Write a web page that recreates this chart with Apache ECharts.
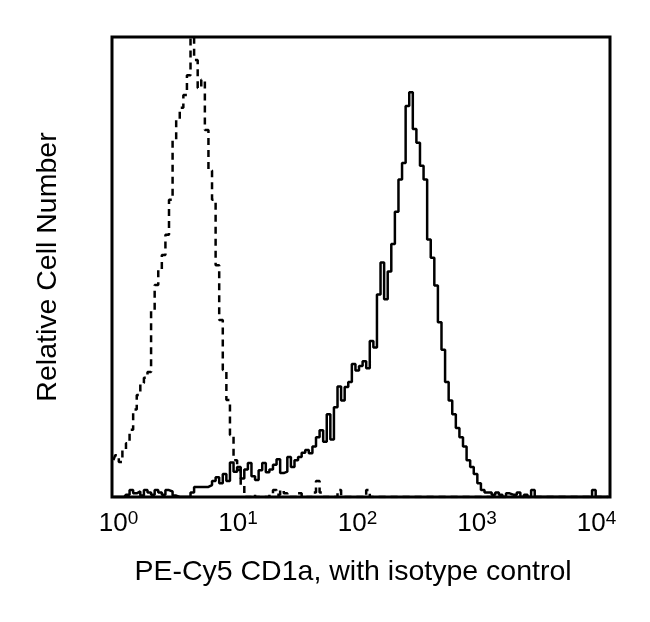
<!DOCTYPE html>
<html>
<head>
<meta charset="utf-8">
<script src="https://cdn.jsdelivr.net/npm/echarts@6/dist/echarts.min.js"></script>
<style>
html,body{margin:0;padding:0;background:#fff;}
#chart{width:650px;height:622px;}
</style>
</head>
<body>
<div id="chart"></div>
<script>
// Channel positions on the log10 fluorescence scale
const channelStart = -0.042;
const channelStep = 0.03;

// Decade tick values (log10) and their labels 10^n
const decadeTicks = [0, 1, 2, 3, 4];

// Isotype control (dashed) histogram counts, relative (0-100)
const isotypeCounts = [
  8.0, 9.1, 7.6, 10.2, 11.7, 14.6, 19.0, 22.2, 24.8, 25.9,
  27.2, 40.6, 46.1, 49.3, 52.6, 57.0, 64.6, 77.6, 82.0, 84.6,
  87.4, 91.7, 100, 95.0, 88.9, 90.7, 79.8, 71.0, 64.6, 50.4,
  38.5, 27.6, 21.1, 13.5, 8.0, 5.9, 2.6, 0,
  0, 0.5, 0, 0, 0, 0, 0.8, 1.5, 0.5, 1.5,
  0.8, 0, 0, 0, 0.8, 0, 0, 0, 1.0, 3.5,
  1.0, 0, 0, 0, 0, 1.5, 0, 0, 0, 0,
  0, 0, 0, 1.5, 0,
  0, 0, 0, 0, 0, 0, 0, 0, 0, 0, 0,
  0, 0, 0, 0, 0, 0, 0, 0, 0, 0, 0,
  0, 0, 0, 0, 0, 0, 0, 0, 0, 0, 0,
  0, 0, 0, 0, 0, 0, 0, 0, 0, 0, 0,
  0, 0, 0, 0, 0, 0, 0, 0, 0, 0, 0,
  0, 0, 0, 0, 0, 0, 0, 0, 0, 0, 0
];

// PE-Cy5 CD1a (solid) histogram counts, relative (0-100)
const cd1aCounts = [
  0, 0, 0, 0, 0.5, 1.5, 0.8, 1.2, 0.3, 1.5,
  1.0, 0.5, 1.5, 1.0, 0.5, 1.5, 1.2, 0.3, 0, 0,
  0, 0, 1.0, 2.2, 2.2, 2.2, 2.2, 2.6, 3.5, 4.3,
  3.0, 5.0, 3.5, 7.5, 5.5, 6.5, 4.0, 6.0, 7.4, 4.5,
  3.7, 5.8, 7.4, 5.4, 6.0, 7.0, 8.2, 5.2, 5.5, 8.7,
  6.5, 8.0, 8.7, 9.6, 10.2, 9.5, 11.0, 13.0, 14.5, 12.0,
  18.0, 12.5, 19.5, 24.0, 21.0, 23.9, 25.0, 28.9, 27.5, 28.5,
  29.5, 28.0, 33.9, 32.5, 44.0, 51.0, 43.0, 49.0, 55.0, 62.0,
  69.0, 72.6, 85.0, 88.0, 80.0, 77.0, 72.0, 69.0, 56.0, 52.0,
  46.0, 38.0, 32.0, 25.0, 21.0, 18.0, 15.0, 13.0, 11.0, 8.0,
  6.5, 5.0, 3.0, 1.5, 1.0, 1.0, 0.5, 1.0, 0.5, 0,
  0.8, 0.5, 0.5, 1.0, 0, 0.5, 0, 1.5, 0, 0,
  0, 0, 0, 0, 0, 0, 0, 0, 0, 0,
  0, 0, 0, 0, 1.5, 0, 0, 0, 0
];

function toPairs(counts) {
  return counts.map((v, k) => [channelStart + k * channelStep, v]);
}

const chart = echarts.init(document.getElementById('chart'), null, {renderer: 'canvas'});
const fontFamily = "'Liberation Sans', Arial, sans-serif";

chart.setOption({
  animation: false,
  backgroundColor: '#fff',
  grid: {
    left: 112, right: 40, top: 37, bottom: 125,
    show: true, borderColor: '#000', borderWidth: 3, backgroundColor: 'transparent'
  },
  xAxis: {
    type: 'value',
    min: -0.054,
    max: 4.113,
    axisLine: {show: false},
    axisTick: {show: false},
    splitLine: {show: false},
    axisLabel: {
      customValues: decadeTicks,
      margin: 12,
      formatter: v => '{b|10}{s|' + Math.round(v) + '}',
      rich: {
        b: {fontSize: 26, lineHeight: 30, color: '#000', fontFamily: fontFamily},
        s: {fontSize: 19, lineHeight: 19, color: '#000', fontFamily: fontFamily, verticalAlign: 'top'}
      }
    },
    name: 'PE-Cy5 CD1a, with isotype control',
    nameLocation: 'middle',
    nameGap: 61,
    nameTextStyle: {fontSize: 28.5, color: '#000', fontFamily: fontFamily, padding: [0, 16, 0, 0]}
  },
  yAxis: {
    type: 'value',
    min: 0,
    max: 100,
    axisLine: {show: false},
    axisTick: {show: false},
    axisLabel: {show: false},
    splitLine: {show: false},
    name: 'Relative Cell Number',
    nameLocation: 'middle',
    nameGap: 49,
    nameTextStyle: {fontSize: 28.5, color: '#000', fontFamily: fontFamily}
  },
  series: [
    {
      name: 'Isotype control',
      type: 'line',
      step: 'middle',
      showSymbol: false,
      symbol: 'none',
      data: toPairs(isotypeCounts),
      lineStyle: {color: '#000', width: 2.5, type: [7, 5]},
      z: 2
    },
    {
      name: 'PE-Cy5 CD1a',
      type: 'line',
      step: 'middle',
      showSymbol: false,
      symbol: 'none',
      data: toPairs(cd1aCounts),
      lineStyle: {color: '#000', width: 2.5},
      z: 3
    }
  ]
});
</script>
</body>
</html>
